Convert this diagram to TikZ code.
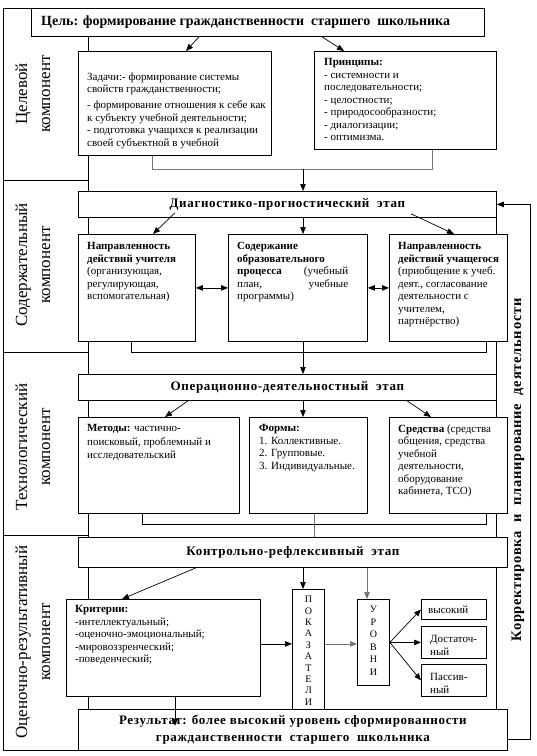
\documentclass[tikz,border=0pt]{standalone}
\usepackage{fontspec}
\setmainfont{Liberation Serif}
\newfontfamily\widefont{Liberation Serif}[LetterSpace=5.0]
\usetikzlibrary{arrows.meta,positioning}

\tikzset{
  blk/.style={draw, fill=white, line width=0.8pt, inner sep=0pt, anchor=north west},
  txt/.style={inner sep=0pt, anchor=north west, align=left, font=\fontsize{11}{12.5}\selectfont},
  stage/.style={font=\widefont\bfseries\fontsize{13}{15}\selectfont},
  lbl/.style={rotate=90, align=center, inner sep=0pt, font=\fontsize{17}{23}\selectfont},
  arr/.style={-{Triangle[length=7pt,width=5.5pt]}, line width=0.7pt},
  darr/.style={{Triangle[length=7pt,width=5.5pt]}-{Triangle[length=7pt,width=5.5pt]}, line width=0.7pt},
  grayline/.style={draw=black!55, line width=1pt},
  frame/.style={line width=0.8pt},
}

\begin{document}
\begin{tikzpicture}[x=1pt,y=-1pt]
\useasboundingbox (0,0) rectangle (537,756);

% left column and inner lines
\draw[frame] (31,8) -- (3,8) -- (3,750) -- (78,750);
\foreach \y in {180,352,535}
  \draw[frame] (3,\y) -- (88,\y);
\draw[frame] (88,36) -- (88,709);
\draw[frame] (496,217) -- (496,709);

% component labels
\node[lbl] (lab1) at (33,94) {Целевой\\компонент};
\node[lbl] (lab2) at (33,265) {Содержательный\\компонент};
\node[lbl] (lab3) at (33,447) {Технологический\\компонент};
\node[lbl] (lab4) at (33,642) {Оценочно-результативный\\компонент};

% goal
\node[blk, minimum width=453pt, minimum height=28pt] (goal) at (31,8) {};
\node[anchor=west, inner sep=0pt, font=\bfseries\fontsize{14}{16}\selectfont] (goaltxt)
  at ([xshift=10pt]goal.west) {Цель: формирование гражданственности~~старшего~~школьника};

% target component
\node[blk, minimum width=193pt, minimum height=104pt] (tasks) at (78,51) {};
\node[txt] (taskstxt) at ([xshift=9pt,yshift=-21.5pt]tasks.north west)
  {Задачи:- формирование системы\\свойств гражданственности;\\[3.5pt]
   - формирование отношения к себе как\\к субъекту учебной деятельности;\\
   - подготовка учащихся к реализации\\своей субъектной в учебной};
\node[blk, minimum width=182pt, minimum height=98pt] (princ) at (314,51) {};
\node[txt] (princtxt) at ([xshift=10pt,yshift=-7.5pt]princ.north west)
  {\textbf{Принципы:}\\- системности и\\последовательности;\\- целостности;\\
   - природосообразности;\\- диалогизации;\\- оптимизма.};
\draw[arr] ([xshift=168pt]goal.south west) -- ([xshift=108pt]tasks.north west);
\draw[arr] ([xshift=291pt]goal.south west) -- ([xshift=30pt]princ.north west);
\draw[grayline] ([xshift=74pt]tasks.south west) -- ++(0,14) coordinate (j0) -| ([xshift=118pt]princ.south west);
\coordinate (j1) at (303,169);

% content component
\node[blk, minimum width=418pt, minimum height=26pt, stage] (diag) at (78,191) {Диагностико-прогностический~~этап};
\draw[arr] (j1) -- (j1 |- diag.north);
\node[blk, minimum width=117pt, minimum height=107pt] (teacher) at (78,234) {};
\node[txt] (teachertxt) at ([xshift=9pt,yshift=-8.5pt]teacher.north west)
  {\textbf{Направленность}\\\textbf{действий учителя}\\(организующая,\\регулирующая,\\вспомогательная)};
\node[blk, minimum width=139pt, minimum height=107pt] (cont) at (228,234) {};
\node[txt, text width=111pt] (conttxt) at ([xshift=9pt,yshift=-8.5pt]cont.north west)
  {\textbf{Содержание}\\\textbf{образовательного}\\\textbf{процесса}\hfill(учебный\\план,\hfill учебные\\программы)};
\node[blk, minimum width=118pt, minimum height=107pt] (pupil) at (389,234) {};
\node[txt] (pupiltxt) at ([xshift=9pt,yshift=-8.5pt]pupil.north west)
  {\textbf{Направленность}\\\textbf{действий учащегося}\\(приобщение к учеб.\\деят., согласование\\деятельности с\\учителем,\\партнёрство)};
\draw[arr] ([xshift=97pt,yshift=5pt]diag.south west) -- ([xshift=75pt]teacher.north west);
\draw[arr] ([xshift=225pt]diag.south west) coordinate (d2) -- (d2 |- cont.north);
\draw[arr] ([xshift=333pt,yshift=4pt]diag.south west) -- ([xshift=65pt]pupil.north west);
\draw[darr] (teacher.east) -- (cont.west);
\draw[darr] (cont.east) -- (pupil.west);
\draw[frame] ([xshift=53pt]teacher.south west) -- ++(0,11) -| ([xshift=97pt]pupil.south west);

% technological component
\node[blk, minimum width=418pt, minimum height=26pt, stage] (oper) at (78,374) {Операционно-деятельностный~~этап};
\draw[arr] ([xshift=75pt]cont.south west) coordinate (c2) -- (c2 |- oper.north);
\node[blk, minimum width=161pt, minimum height=96pt] (meth) at (78,417) {};
\node[txt, font=\fontsize{11}{13.5}\selectfont] (methtxt) at ([xshift=9pt,yshift=-7.5pt]meth.north west)
  {\textbf{Методы:} частично-\\поисковый, проблемный и\\исследовательский};
\node[blk, minimum width=118pt, minimum height=96pt] (forms) at (249,417) {};
\node[txt] (formstxt) at ([xshift=10pt,yshift=-7.5pt]forms.north west)
  {\textbf{Формы:}\\1. Коллективные.\\2. Групповые.\\3. Индивидуальные.};
\node[blk, minimum width=118pt, minimum height=96pt] (means) at (389,417) {};
\node[txt] (meanstxt) at ([xshift=9pt,yshift=-7.5pt]means.north west)
  {\textbf{Средства} (средства\\общения, средства\\учебной\\деятельности,\\оборудование\\кабинета, ТСО)};
\draw[arr] ([xshift=110pt]oper.south west) -- ([xshift=87pt]meth.north west);
\draw[arr] ([xshift=225pt]oper.south west) coordinate (o2) -- (o2 |- forms.north);
\draw[arr] ([xshift=329pt]oper.south west) -- ([xshift=42pt]means.north west);
\draw[frame] ([xshift=64pt]meth.south west) -- ++(0,11) -| ([xshift=97pt]means.south west);

% evaluation component
\node[blk, minimum width=429pt, minimum height=30pt, stage] (ctrl) at (78,537) {Контрольно-рефлексивный~~этап};
\draw[grayline] ([xshift=65pt]forms.south west) coordinate (f2) -- (f2 |- ctrl.north);
\node[blk, minimum width=194pt, minimum height=97pt] (crit) at (66,599) {};
\node[txt] (crittxt) at ([xshift=9pt,yshift=-6.5pt]crit.north west)
  {\textbf{Критерии:}\\-интеллектуальный;\\-оценочно-эмоциональный;\\-мировоззренческий;\\-поведенческий;};
\node[blk, minimum width=32pt, minimum height=130pt] (ind) at (292,589) {};
\node[inner sep=0pt, anchor=north, align=center, font=\fontsize{10}{11.4}\selectfont] (indtxt)
  at ([yshift=-7pt]ind.north) {П\\О\\К\\А\\З\\А\\Т\\Е\\Л\\И};
\node[blk, minimum width=32pt, minimum height=86pt] (lev) at (357,599) {};
\node[inner sep=0pt, anchor=north, align=center, font=\fontsize{10}{12.5}\selectfont] (levtxt)
  at ([yshift=-7pt]lev.north) {У\\Р\\О\\В\\Н\\И};
\node[blk, minimum width=65pt, minimum height=20pt] (high) at (421,599) {};
\node[txt, anchor=west] (hightxt) at ([xshift=7pt]high.west) {высокий};
\node[blk, minimum width=65pt, minimum height=32pt] (mid) at (421,626) {};
\node[txt, anchor=west] (midtxt) at ([xshift=9pt,yshift=-3pt]mid.west) {Достаточ-\\ный};
\node[blk, minimum width=65pt, minimum height=32pt] (low) at (421,664) {};
\node[txt, anchor=west] (lowtxt) at ([xshift=9pt,yshift=-3pt]low.west) {Пассив-\\ный};
\draw[arr] ([xshift=118pt]ctrl.south west) -- ([xshift=56pt]crit.north west);
\draw[arr] ([xshift=225pt]ctrl.south west) coordinate (k2) -- (k2 |- ind.north);
\draw[arr, draw=black!55] ([xshift=289pt]ctrl.south west) coordinate (k3) -- (k3 |- lev.north);
\draw[arr] ([yshift=4pt]crit.east) coordinate (e1) -- (e1 -| ind.west);
\draw[arr, draw=black!55] (e1 -| ind.east) -- (e1 -| lev.west);
\draw[arr] (lev.east) -- (high.west);
\draw[arr] (lev.east) -- (mid.west);
\draw[arr] (lev.east) -- (low.west);

% result
\node[blk, minimum width=429pt, minimum height=41pt, align=center,
      font=\widefont\bfseries\fontsize{13}{17}\selectfont] (res) at (78,709)
  {Результат: более высокий уровень сформированности\\гражданственности~~старшего~~школьника};
\draw[arr] ([xshift=109pt]crit.south west) -- ++(0,29) coordinate (rtip);

% correction loop
\draw[arr] ([yshift=-9.5pt]res.east) -- ++(23,0) coordinate (q1) |- (diag.east);
\node[rotate=90, inner sep=0pt, font=\widefont\bfseries\fontsize{14.5}{16}\selectfont] (corrlbl)
  at (518,470) {Корректировка~~и~~планирование~~деятельности};
\end{tikzpicture}
\end{document}
